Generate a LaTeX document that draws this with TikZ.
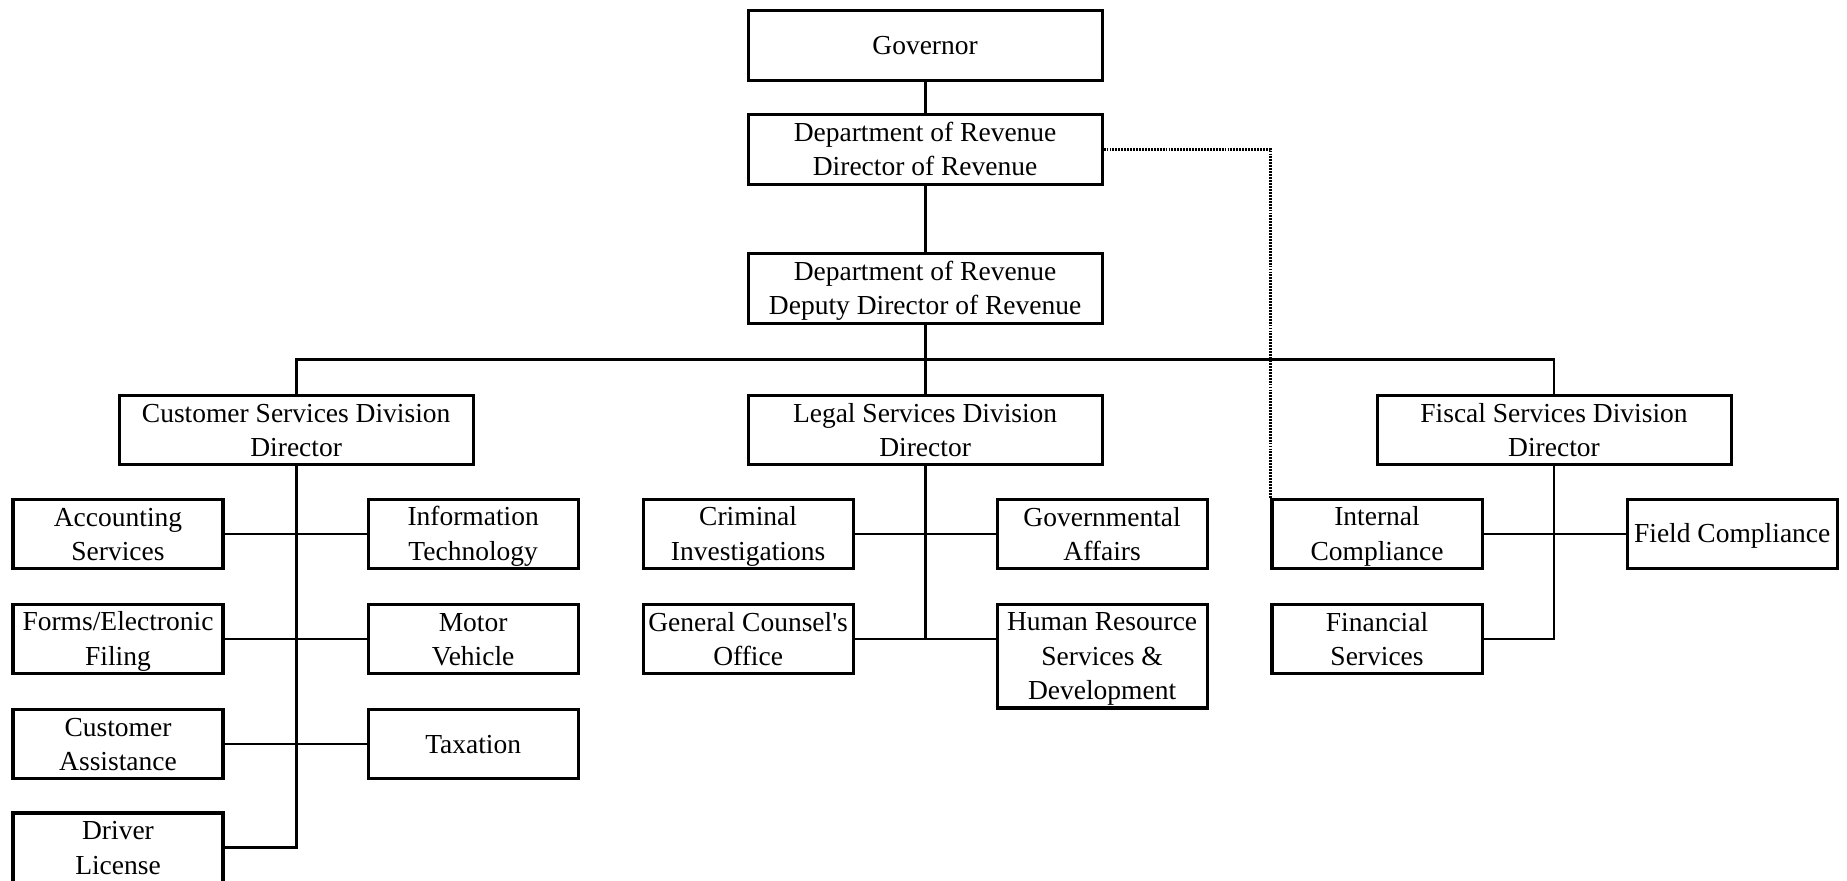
\documentclass[tikz,border=0pt]{standalone}
\usepackage{fontspec}
\setmainfont{Liberation Serif}
\newcommand\orgfont{\fontsize{23.3}{29}\selectfont}
\newcommand\tx[1]{\rule{0pt}{20.3pt}#1\rule[-4.7pt]{0pt}{4.7pt}}
\begin{document}
\begin{tikzpicture}[x=1pt,y=-1pt,
  orgbox/.style={draw, line width=2.6pt, align=center, inner sep=0pt, font=\orgfont},
  bigbox/.style={orgbox, minimum width=300pt, minimum height=59pt},
  smallbox/.style={orgbox, minimum width=178pt, minimum height=59pt},
  link/.style={line width=2.4pt},
  dotlink/.style={line width=2.2pt, dash pattern=on 1.6pt off 0.9pt}]
\useasboundingbox (0,0) rectangle (1565.3,746.6);
% top chain
\node[bigbox] (gov) at (784,38.5) {\tx{Governor}};
\node[bigbox] (dir) at (784,126.5) {\tx{Department of Revenue\\Director of Revenue}};
\node[bigbox] (dep) at (784,244.5) {\tx{Department of Revenue\\Deputy Director of Revenue}};
% divisions
\node[bigbox] (cs) at (251,364.5) {\tx{Customer Services Division\\Director}};
\node[bigbox] (ls) at (784,364.5) {\tx{Legal Services Division\\Director}};
\node[bigbox] (fs) at (1317,364.5) {\tx{Fiscal Services Division\\Director}};
% customer services units
\node[smallbox] (acc) at (100,452.5) {\tx{Accounting\\Services}};
\node[smallbox] (it) at (401,452.5) {\tx{Information\\Technology}};
\node[smallbox] (forms) at (100,541.5) {\tx{Forms/Electronic\\Filing}};
\node[smallbox] (motor) at (401,541.5) {\tx{Motor\\Vehicle}};
\node[smallbox] (cust) at (100,630.5) {\tx{Customer\\Assistance}};
\node[smallbox] (tax) at (401,630.5) {\tx{Taxation}};
\node[smallbox] (drv) at (100,718.5) {\tx{Driver\\License}};
% legal units
\node[smallbox] (crim) at (634,452.5) {\tx{Criminal\\Investigations}};
\node[smallbox] (govaff) at (934,452.5) {\tx{Governmental\\Affairs}};
\node[smallbox] (gc) at (634,541.5) {\tx{General Counsel\textquotesingle s\\Office}};
\node[smallbox, minimum height=88pt] (hr) at (934,556) {\tx{Human Resource\\Services \&\\Development}};
% fiscal units
\node[smallbox] (int) at (1167,452.5) {\tx{Internal\\Compliance}};
\node[smallbox] (field) at (1468,452.5) {\tx{Field Compliance}};
\node[smallbox] (fin) at (1167,541.5) {\tx{Financial\\Services}};
% connectors
\draw[link] (gov.south) -- (dir.north);
\draw[link] (dir.south) -- (dep.north);
\coordinate (bus) at (784,305);
\draw[link] (dep.south) -- (ls.north);
\draw[link] (cs.north) |- (bus) -| (fs.north);
\draw[link] (cs.south) |- (drv.east);
\draw[link] (acc.east) -- (it.west);
\draw[link] (forms.east) -- (motor.west);
\draw[link] (cust.east) -- (tax.west);
\draw[link] (ls.south) |- (gc.east);
\draw[link] (crim.east) -- (govaff.west);
\draw[link] (gc.east) -- (gc.east -| hr.west);
\draw[link] (fs.south) |- (fin.east);
\draw[link] (int.east) -- (field.west);
\draw[dotlink] (dir.east) -| (int.north west);
\end{tikzpicture}
\end{document}
